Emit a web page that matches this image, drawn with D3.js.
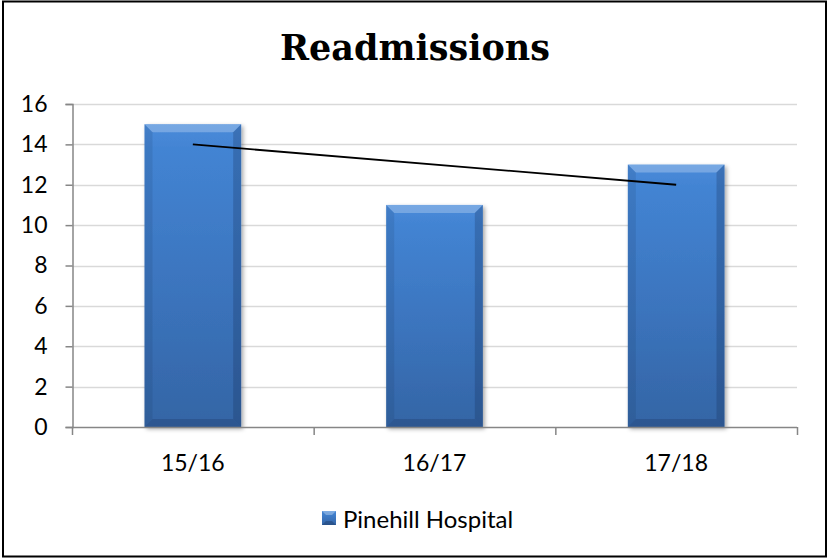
<!DOCTYPE html>
<html>
<head>
<meta charset="utf-8">
<script src="https://cdn.jsdelivr.net/npm/d3@7"></script>
<style>
  html, body { margin: 0; padding: 0; background: #fff; }
  svg { display: block; }
</style>
</head>
<body>
<svg id="chart" width="829" height="558"></svg>
<script>
// Chart data
const categories = ["15/16", "16/17", "17/18"];
const readmissions = [15, 11, 13];
const yTicks = [0, 2, 4, 6, 8, 10, 12, 14, 16];
const seriesName = "Pinehill Hospital";
const chartTitle = "Readmissions";

const W = 829, H = 558;
const plot = { left: 72, right: 797, top: 104, bottom: 427 };
const labelFont = "Lato, 'Open Sans', sans-serif";

const svg = d3.select("#chart");

// Outer frame
svg.append("rect")
  .attr("x", 3).attr("y", 1.5)
  .attr("width", W - 6).attr("height", H - 3)
  .attr("fill", "#fff")
  .attr("stroke", "#000").attr("stroke-width", 2);

const defs = svg.append("defs");

const fill = defs.append("linearGradient")
  .attr("id", "barFill").attr("x1", 0).attr("y1", 0).attr("x2", 0).attr("y2", 1);
[["0%", "#4a8bda"], ["8%", "#4384d3"], ["55%", "#3b74bd"], ["100%", "#3465a5"]]
  .forEach(([o, c]) => fill.append("stop").attr("offset", o).attr("stop-color", c));

const shadow = defs.append("filter").attr("id", "barShadow")
  .attr("x", "-20%").attr("y", "-5%").attr("width", "140%").attr("height", "115%");
shadow.append("feDropShadow")
  .attr("dx", 2).attr("dy", 2).attr("stdDeviation", 2.2)
  .attr("flood-color", "#000").attr("flood-opacity", 0.35);

// Scales
const x = d3.scaleBand()
  .domain(categories)
  .range([plot.left, plot.right])
  .paddingInner(0.6).paddingOuter(0.3);
const y = d3.scaleLinear().domain([0, 16]).range([plot.bottom, plot.top]);

// Horizontal gridlines
svg.append("g")
  .selectAll("line")
  .data(yTicks.filter(t => t > 0))
  .join("line")
  .attr("x1", plot.left).attr("x2", plot.right)
  .attr("y1", d => Math.round(y(d)) + 0.5).attr("y2", d => Math.round(y(d)) + 0.5)
  .attr("stroke", "#d9d9d9").attr("stroke-width", 1.5);

// Y axis
const yAxis = svg.append("g")
  .attr("transform", `translate(${plot.left + 0.5},0)`)
  .call(d3.axisLeft(y).tickValues(yTicks).tickSize(7).tickPadding(18));
yAxis.select(".domain").attr("stroke", "#868686").attr("stroke-width", 1.5);
yAxis.selectAll(".tick line").attr("stroke", "#868686").attr("stroke-width", 1.5);
yAxis.selectAll(".tick text")
  .attr("fill", "#000")
  .style("font-family", labelFont).style("font-size", "23px");

// Bars
const bw = x.bandwidth();
const bars = svg.append("g");
const b = 8;
categories.forEach((c, i) => {
  const x0 = x(c), x1 = x0 + bw;
  const y0 = y(readmissions[i]), y1 = y(0);
  const g = bars.append("g");
  g.append("rect")
    .attr("x", x0).attr("y", y0).attr("width", bw).attr("height", y1 - y0)
    .attr("fill", "url(#barFill)")
    .attr("filter", "url(#barShadow)");
  // bevel facets
  const facets = [
    { pts: [[x0, y0], [x1, y0], [x1 - b, y0 + b], [x0 + b, y0 + b]], fill: "#ffffff", op: 0.25 },
    { pts: [[x0, y0], [x0 + b, y0 + b], [x0 + b, y1 - b], [x0, y1]], fill: "#10264a", op: 0.12 },
    { pts: [[x1, y0], [x1, y1], [x1 - b, y1 - b], [x1 - b, y0 + b]], fill: "#10264a", op: 0.24 },
    { pts: [[x0, y1], [x0 + b, y1 - b], [x1 - b, y1 - b], [x1, y1]], fill: "#10264a", op: 0.22 }
  ];
  g.selectAll("polygon")
    .data(facets)
    .join("polygon")
    .attr("points", d => d.pts.map(p => p.join(",")).join(" "))
    .attr("fill", d => d.fill).attr("fill-opacity", d => d.op);
});

// X axis (baseline and category dividers)
const xAxisG = svg.append("g");
xAxisG.append("line")
  .attr("x1", plot.left).attr("x2", plot.right)
  .attr("y1", plot.bottom + 0.5).attr("y2", plot.bottom + 0.5)
  .attr("stroke", "#868686").attr("stroke-width", 1.5);
const step = x.step();
const dividers = d3.range(categories.length + 1).map(k => plot.left + k * step);
xAxisG.selectAll("line.div")
  .data(dividers)
  .join("line").attr("class", "div")
  .attr("x1", d => d + 0.5).attr("x2", d => d + 0.5)
  .attr("y1", plot.bottom).attr("y2", plot.bottom + 8)
  .attr("stroke", "#868686").attr("stroke-width", 1.5);
xAxisG.selectAll("text")
  .data(categories)
  .join("text")
  .attr("x", d => x(d) + bw / 2)
  .attr("y", plot.bottom + 44)
  .attr("text-anchor", "middle")
  .style("font-family", labelFont).style("font-size", "23px")
  .text(d => d);

// Linear trendline (least squares over category index)
const n = readmissions.length;
const idx = d3.range(1, n + 1);
const mx = d3.mean(idx), my = d3.mean(readmissions);
const slope = d3.sum(idx, (k, i) => (k - mx) * (readmissions[i] - my)) / d3.sum(idx, k => (k - mx) ** 2);
const icpt = my - slope * mx;
const trend = idx.map((k, i) => [x(categories[i]) + bw / 2, y(icpt + slope * k)]);
svg.append("path")
  .attr("d", d3.line()([trend[0], trend[n - 1]]))
  .attr("stroke", "#000").attr("stroke-width", 1.8).attr("fill", "none");

// Title
svg.append("text")
  .attr("x", 415).attr("y", 60)
  .attr("text-anchor", "middle")
  .style("font-family", "'DejaVu Serif', serif")
  .style("font-weight", "bold").style("font-size", "35px")
  .text(chartTitle);

// Legend
const legend = svg.append("g");
const lx = 322, ly = 511, ls = 14;
legend.append("rect")
  .attr("x", lx).attr("y", ly).attr("width", ls).attr("height", ls)
  .attr("fill", "url(#barFill)");
legend.append("polygon")
  .attr("points", [[lx, ly], [lx + ls, ly], [lx + ls - 4, ly + 4], [lx + 4, ly + 4]].map(p => p.join(",")).join(" "))
  .attr("fill", "#fff").attr("fill-opacity", 0.3);
legend.append("polygon")
  .attr("points", [[lx, ly + ls], [lx + 4, ly + ls - 4], [lx + ls - 4, ly + ls - 4], [lx + ls, ly + ls]].map(p => p.join(",")).join(" "))
  .attr("fill", "#10264a").attr("fill-opacity", 0.3);
legend.append("text")
  .attr("x", lx + ls + 7).attr("y", ly + ls / 2)
  .attr("dominant-baseline", "central")
  .style("font-family", labelFont).style("font-size", "24px")
  .text(seriesName);
</script>
</body>
</html>
